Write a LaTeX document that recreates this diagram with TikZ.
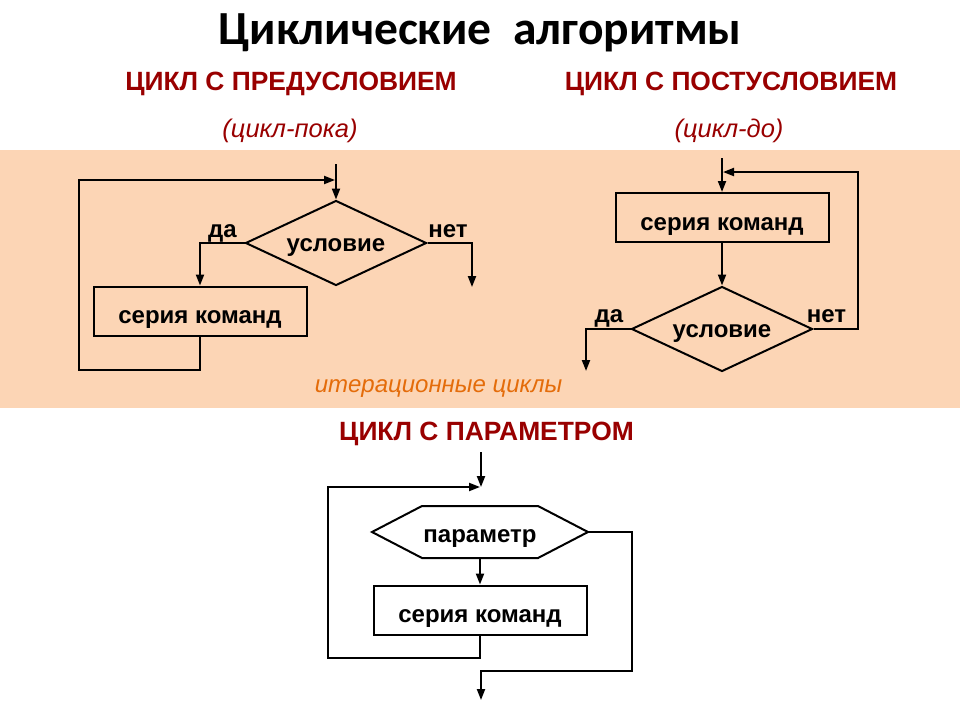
\documentclass[tikz,border=0pt]{standalone}
\usepackage{fontspec}
\setmainfont{Liberation Sans}
\newfontfamily\titlefont{Carlito}
\usetikzlibrary{arrows.meta,shapes.geometric}
\definecolor{band}{RGB}{252,213,181}
\definecolor{dred}{RGB}{153,0,0}
\definecolor{iorange}{RGB}{228,108,10}
\begin{document}
\begin{tikzpicture}[x=1pt,y=-1pt,line width=2pt,
  arr/.style={-{Triangle[length=11pt,width=8pt]}},
  lbl/.style={font=\bfseries\fontsize{24}{28}\selectfont, inner sep=0pt, anchor=base},
  cmdbox/.style={draw, line width=2pt, minimum width=213pt, minimum height=49pt, inner sep=0pt, text height=25pt, text depth=0pt, font=\bfseries\fontsize{24}{28}\selectfont},
  cond/.style={draw, shape=diamond, shape aspect=2.1, line width=2pt, minimum width=181pt, minimum height=85pt, inner sep=0pt, text height=17pt, text depth=0pt, font=\bfseries\fontsize{24}{28}\selectfont},
  head/.style={text=dred, font=\bfseries\fontsize{26.4}{30}\selectfont, inner sep=0pt, anchor=base},
  sub/.style={text=dred, font=\itshape\fontsize{25.5}{30}\selectfont, inner sep=0pt, anchor=base}
]
\useasboundingbox (0,0) rectangle (960,720);
\fill[white] (0,0) rectangle (960,720);
\fill[band] (0,150) rectangle (960,408);

% titles
\node[font=\titlefont\bfseries\fontsize{47.5}{54}\selectfont, inner sep=0pt, anchor=base] (title) at (480,44) {Циклические~~алгоритмы};
\node[head] (h1) at (291,90) {ЦИКЛ С ПРЕДУСЛОВИЕМ};
\node[head] (h2) at (731,90) {ЦИКЛ С ПОСТУСЛОВИЕМ};
\node[sub] (s1) at (290,137) {(цикл-пока)};
\node[sub] (s2) at (729,137) {(цикл-до)};
\node[text=iorange, font=\itshape\fontsize{24}{28}\selectfont, inner sep=0pt, anchor=base] (iter) at (438.5,392) {итерационные циклы};
\node[head] (h3) at (486.5,440) {ЦИКЛ С ПАРАМЕТРОМ};

% left: pre-condition loop
\node[cond] (Ld) at (336,243) {условие};
\node[cmdbox] (Lb) at (200,311) {серия команд};
\coordinate (Ltop) at (336,164);
\coordinate (Lj) at (335,180);
\coordinate (L1) at (79,370);
\coordinate (Lno) at (472,287);
\draw[arr] (Ltop) -- (Ld.north);
\draw[arr] (Ld.west) -| (Lb.north);
\draw[arr] (Ld.east) -| (Lno);
\draw[arr] (Lb.south) |- (L1) |- (Lj);
\node[lbl] (Lda) at (222.5,237) {да};
\node[lbl] (Lnet) at (448,237) {нет};

% right: post-condition loop
\node[cmdbox] (Rb) at (722,217.5) {серия команд};
\node[cond] (Rd) at (722,329) {условие};
\coordinate (Rtop) at (722,158);
\coordinate (Rr) at (858,172);
\coordinate (Rj) at (723,172);
\coordinate (Rda) at (586,371);
\draw[arr] (Rtop) -- (Rb.north);
\draw[arr] (Rb.south) -- (Rd.north);
\draw[arr] (Rd.east) -| (Rr) -- (Rj);
\draw[arr] (Rd.west) -| (Rda);
\node[lbl] (Rdal) at (609,322) {да};
\node[lbl] (Rnet) at (826.5,322) {нет};

% bottom: parameter loop
\node[minimum width=214pt, minimum height=50pt, inner sep=0pt, text height=20pt, text depth=0pt, font=\bfseries\fontsize{24}{28}\selectfont] (P) at (480,532) {параметр};
\draw (P.west) -- ([xshift=50pt]P.north west) -- ([xshift=-50pt]P.north east) -- (P.east) -- ([xshift=-50pt]P.south east) -- ([xshift=50pt]P.south west) -- cycle;
\node[cmdbox] (B) at (480,610) {серия команд};
\coordinate (Btop) at (481,452);
\coordinate (Bj) at (481,487);
\coordinate (Bl) at (328,658);
\coordinate (Br) at (632,671);
\coordinate (Bend) at (481,700);
\draw[arr] (Btop) -- (Bj);
\draw[arr] (P.south) -- (B.north);
\draw[arr] (B.south) |- (Bl) |- ([xshift=-1pt]Bj);
\draw[arr] (P.east) -| (Br) -| (Bend);
\end{tikzpicture}
\end{document}
